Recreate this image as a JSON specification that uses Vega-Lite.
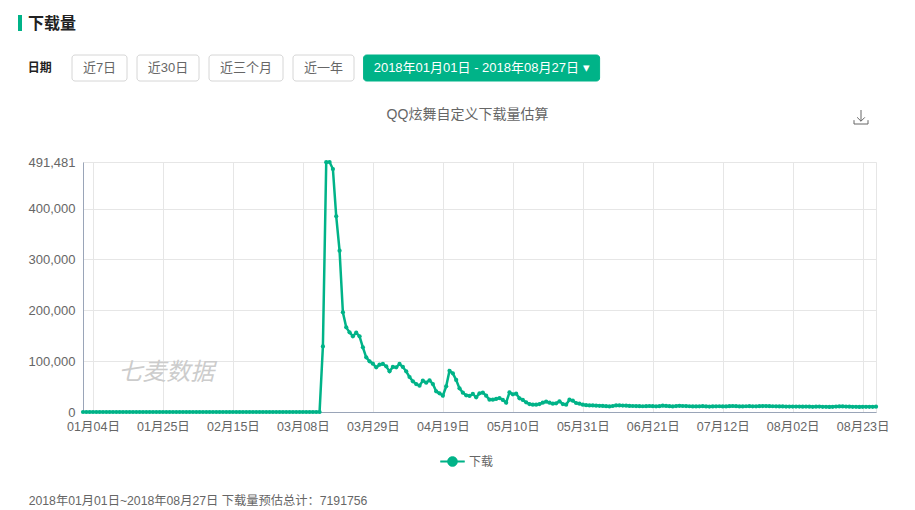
{
  "$schema": "https://vega.github.io/schema/vega-lite/v6.json",
  "width": 793,
  "height": 250,
  "autosize": "none",
  "padding": {"left": 83, "top": 162, "right": 39, "bottom": 98},
  "title": {"text": "下载量", "anchor": "start", "frame": "group", "dx": -55, "offset": -17, "fontSize": 16, "fontWeight": "bold", "color": "#222222"},
  "config": {
    "font": "Liberation Sans, Noto Sans CJK SC",
    "view": {"stroke": "#e6e6e6"}
  },
  "datasets": {
    "series": [
      {"date":"01月01日","downloads":0},{"date":"01月02日","downloads":0},{"date":"01月03日","downloads":0},{"date":"01月04日","downloads":0},{"date":"01月05日","downloads":0},{"date":"01月06日","downloads":0},{"date":"01月07日","downloads":0},{"date":"01月08日","downloads":0},{"date":"01月09日","downloads":0},{"date":"01月10日","downloads":0},
      {"date":"01月11日","downloads":0},{"date":"01月12日","downloads":0},{"date":"01月13日","downloads":0},{"date":"01月14日","downloads":0},{"date":"01月15日","downloads":0},{"date":"01月16日","downloads":0},{"date":"01月17日","downloads":0},{"date":"01月18日","downloads":0},{"date":"01月19日","downloads":0},{"date":"01月20日","downloads":0},
      {"date":"01月21日","downloads":0},{"date":"01月22日","downloads":0},{"date":"01月23日","downloads":0},{"date":"01月24日","downloads":0},{"date":"01月25日","downloads":0},{"date":"01月26日","downloads":0},{"date":"01月27日","downloads":0},{"date":"01月28日","downloads":0},{"date":"01月29日","downloads":0},{"date":"01月30日","downloads":0},{"date":"01月31日","downloads":0},
      {"date":"02月01日","downloads":0},{"date":"02月02日","downloads":0},{"date":"02月03日","downloads":0},{"date":"02月04日","downloads":0},{"date":"02月05日","downloads":0},{"date":"02月06日","downloads":0},{"date":"02月07日","downloads":0},{"date":"02月08日","downloads":0},{"date":"02月09日","downloads":0},{"date":"02月10日","downloads":0},
      {"date":"02月11日","downloads":0},{"date":"02月12日","downloads":0},{"date":"02月13日","downloads":0},{"date":"02月14日","downloads":0},{"date":"02月15日","downloads":0},{"date":"02月16日","downloads":0},{"date":"02月17日","downloads":0},{"date":"02月18日","downloads":0},{"date":"02月19日","downloads":0},{"date":"02月20日","downloads":0},
      {"date":"02月21日","downloads":0},{"date":"02月22日","downloads":0},{"date":"02月23日","downloads":0},{"date":"02月24日","downloads":0},{"date":"02月25日","downloads":0},{"date":"02月26日","downloads":0},{"date":"02月27日","downloads":0},{"date":"02月28日","downloads":0},
      {"date":"03月01日","downloads":0},{"date":"03月02日","downloads":0},{"date":"03月03日","downloads":0},{"date":"03月04日","downloads":0},{"date":"03月05日","downloads":0},{"date":"03月06日","downloads":0},{"date":"03月07日","downloads":0},{"date":"03月08日","downloads":0},{"date":"03月09日","downloads":0},{"date":"03月10日","downloads":0},
      {"date":"03月11日","downloads":0},{"date":"03月12日","downloads":0},{"date":"03月13日","downloads":0},{"date":"03月14日","downloads":129000},{"date":"03月15日","downloads":491000},{"date":"03月16日","downloads":491481},{"date":"03月17日","downloads":477700},{"date":"03月18日","downloads":384700},{"date":"03月19日","downloads":317200},{"date":"03月20日","downloads":195900},
      {"date":"03月21日","downloads":166400},{"date":"03月22日","downloads":156600},{"date":"03月23日","downloads":148800},{"date":"03月24日","downloads":156000},{"date":"03月25日","downloads":148800},{"date":"03月26日","downloads":127100},{"date":"03月27日","downloads":107500},{"date":"03月28日","downloads":99600},{"date":"03月29日","downloads":95000},{"date":"03月30日","downloads":87800},{"date":"03月31日","downloads":93000},
      {"date":"04月01日","downloads":94400},{"date":"04月02日","downloads":89800},{"date":"04月03日","downloads":79900},{"date":"04月04日","downloads":88500},{"date":"04月05日","downloads":87800},{"date":"04月06日","downloads":94400},{"date":"04月07日","downloads":88500},{"date":"04月08日","downloads":79900},{"date":"04月09日","downloads":68800},{"date":"04月10日","downloads":60300},
      {"date":"04月11日","downloads":55000},{"date":"04月12日","downloads":51800},{"date":"04月13日","downloads":61600},{"date":"04月14日","downloads":57700},{"date":"04月15日","downloads":62300},{"date":"04月16日","downloads":55000},{"date":"04月17日","downloads":40600},{"date":"04月18日","downloads":36700},{"date":"04月19日","downloads":32100},{"date":"04月20日","downloads":50500},
      {"date":"04月21日","downloads":81000},{"date":"04月22日","downloads":76000},{"date":"04月23日","downloads":63000},{"date":"04月24日","downloads":46500},{"date":"04月25日","downloads":38000},{"date":"04月26日","downloads":32800},{"date":"04月27日","downloads":31500},{"date":"04月28日","downloads":35400},{"date":"04月29日","downloads":28800},{"date":"04月30日","downloads":36700},
      {"date":"05月01日","downloads":38000},{"date":"05月02日","downloads":32100},{"date":"05月03日","downloads":24200},{"date":"05月04日","downloads":24200},{"date":"05月05日","downloads":25600},{"date":"05月06日","downloads":27500},{"date":"05月07日","downloads":23600},{"date":"05月08日","downloads":18300},{"date":"05月09日","downloads":38700},{"date":"05月10日","downloads":34700},
      {"date":"05月11日","downloads":36000},{"date":"05月12日","downloads":26900},{"date":"05月13日","downloads":23600},{"date":"05月14日","downloads":19000},{"date":"05月15日","downloads":15700},{"date":"05月16日","downloads":14400},{"date":"05月17日","downloads":14400},{"date":"05月18日","downloads":15700},{"date":"05月19日","downloads":18300},{"date":"05月20日","downloads":20300},
      {"date":"05月21日","downloads":18300},{"date":"05月22日","downloads":16400},{"date":"05月23日","downloads":17000},{"date":"05月24日","downloads":21000},{"date":"05月25日","downloads":15700},{"date":"05月26日","downloads":14400},{"date":"05月27日","downloads":24200},{"date":"05月28日","downloads":22300},{"date":"05月29日","downloads":17700},{"date":"05月30日","downloads":16400},{"date":"05月31日","downloads":14400},
      {"date":"06月01日","downloads":13500},{"date":"06月02日","downloads":13000},{"date":"06月03日","downloads":13000},{"date":"06月04日","downloads":12500},{"date":"06月05日","downloads":12200},{"date":"06月06日","downloads":12000},{"date":"06月07日","downloads":11500},{"date":"06月08日","downloads":11000},{"date":"06月09日","downloads":11800},{"date":"06月10日","downloads":12800},
      {"date":"06月11日","downloads":13000},{"date":"06月12日","downloads":12600},{"date":"06月13日","downloads":12300},{"date":"06月14日","downloads":12000},{"date":"06月15日","downloads":11800},{"date":"06月16日","downloads":11600},{"date":"06月17日","downloads":11500},{"date":"06月18日","downloads":11300},{"date":"06月19日","downloads":11500},{"date":"06月20日","downloads":11800},
      {"date":"06月21日","downloads":11400},{"date":"06月22日","downloads":11100},{"date":"06月23日","downloads":11500},{"date":"06月24日","downloads":12500},{"date":"06月25日","downloads":11900},{"date":"06月26日","downloads":11400},{"date":"06月27日","downloads":11000},{"date":"06月28日","downloads":11700},{"date":"06月29日","downloads":12200},{"date":"06月30日","downloads":11800},
      {"date":"07月01日","downloads":11600},{"date":"07月02日","downloads":11300},{"date":"07月03日","downloads":11000},{"date":"07月04日","downloads":10900},{"date":"07月05日","downloads":11100},{"date":"07月06日","downloads":11400},{"date":"07月07日","downloads":11000},{"date":"07月08日","downloads":10800},{"date":"07月09日","downloads":10900},{"date":"07月10日","downloads":11100},
      {"date":"07月11日","downloads":11300},{"date":"07月12日","downloads":11000},{"date":"07月13日","downloads":10900},{"date":"07月14日","downloads":11400},{"date":"07月15日","downloads":11800},{"date":"07月16日","downloads":11500},{"date":"07月17日","downloads":11000},{"date":"07月18日","downloads":10900},{"date":"07月19日","downloads":11300},{"date":"07月20日","downloads":11500},
      {"date":"07月21日","downloads":11100},{"date":"07月22日","downloads":11200},{"date":"07月23日","downloads":11400},{"date":"07月24日","downloads":11600},{"date":"07月25日","downloads":11700},{"date":"07月26日","downloads":11500},{"date":"07月27日","downloads":11300},{"date":"07月28日","downloads":11100},{"date":"07月29日","downloads":11000},{"date":"07月30日","downloads":10900},{"date":"07月31日","downloads":10800},
      {"date":"08月01日","downloads":10700},{"date":"08月02日","downloads":10600},{"date":"08月03日","downloads":10800},{"date":"08月04日","downloads":10700},{"date":"08月05日","downloads":10500},{"date":"08月06日","downloads":10600},{"date":"08月07日","downloads":10400},{"date":"08月08日","downloads":10200},{"date":"08月09日","downloads":10500},{"date":"08月10日","downloads":10700},
      {"date":"08月11日","downloads":10300},{"date":"08月12日","downloads":10100},{"date":"08月13日","downloads":10000},{"date":"08月14日","downloads":10300},{"date":"08月15日","downloads":10600},{"date":"08月16日","downloads":10900},{"date":"08月17日","downloads":11000},{"date":"08月18日","downloads":10700},{"date":"08月19日","downloads":10500},{"date":"08月20日","downloads":10300},
      {"date":"08月21日","downloads":10200},{"date":"08月22日","downloads":10000},{"date":"08月23日","downloads":10100},{"date":"08月24日","downloads":10300},{"date":"08月25日","downloads":10100},{"date":"08月26日","downloads":10200},{"date":"08月27日","downloads":10500}
    ],
    "filters": [
      {"order": 0, "label": "日期"},
      {"order": 1, "label": "近7日"},
      {"order": 2, "label": "近30日"},
      {"order": 3, "label": "近三个月"},
      {"order": 4, "label": "近一年"},
      {"order": 5, "label": "2018年01月01日 - 2018年08月27日 ▾"}
    ]
  },
  "layer": [
    {
      "encoding": {
        "x": {
          "field": "date",
          "type": "nominal",
          "sort": null,
          "scale": {"type": "point", "padding": 0},
          "axis": {
            "values": ["01月04日","01月25日","02月15日","03月08日","03月29日","04月19日","05月10日","05月31日","06月21日","07月12日","08月02日","08月23日"],
            "labelAngle": 0,
            "labelOverlap": false,
            "labelFontSize": 12.5,
            "labelColor": "#666666",
            "labelPadding": 8,
            "ticks": false,
            "grid": true,
            "gridColor": "#e6e6e6",
            "domainColor": "#9aa5b8",
            "title": "2018年01月01日~2018年08月27日 下载量预估总计：7191756",
            "titleFontSize": 12.25,
            "titleFontWeight": "normal",
            "titleColor": "#666666",
            "titleX": 114.5,
            "titleY": 88,
            "titleAlign": "center",
            "titleBaseline": "middle"
          }
        },
        "y": {
          "field": "downloads",
          "type": "quantitative",
          "scale": {"domain": [0, 491481], "nice": false},
          "axis": {
            "values": [0, 100000, 200000, 300000, 400000, 491481],
            "format": ",.0f",
            "labelFontSize": 13,
            "labelColor": "#666666",
            "labelPadding": 8,
            "ticks": false,
            "grid": true,
            "gridColor": "#e6e6e6",
            "domainColor": "#9aa5b8",
            "title": "QQ炫舞自定义下载量估算",
            "titleFontSize": 14,
            "titleFontWeight": "normal",
            "titleColor": "#666666",
            "titleAngle": 0,
            "titleX": 384,
            "titleY": -48,
            "titleAlign": "center",
            "titleBaseline": "middle"
          }
        }
      },
      "layer": [
        {
          "data": {"name": "series"},
          "mark": {"type": "line", "strokeWidth": 2.5, "point": {"filled": true, "size": 18}},
          "encoding": {
            "color": {
              "datum": "下载",
              "scale": {"domain": ["下载"], "range": ["#00b388"]},
              "legend": {
                "title": null,
                "orient": "none",
                "legendX": 357,
                "legendY": 287,
                "symbolType": "M-1,-0.06H1V0.06H-1Z M0.42,0A0.42,0.42 0 1,1 -0.42,0A0.42,0.42 0 1,1 0.42,0Z",
                "symbolSize": 576,
                "symbolFillColor": "#00b388",
                "symbolStrokeColor": "#00b388",
                "symbolStrokeWidth": 0.5,
                "labelFontSize": 12,
                "labelColor": "#666666"
              }
            }
          }
        },
        {
          "data": {"values": [{"date": "01月26日", "downloads": 76700, "text": "七麦数据"}]},
          "mark": {"type": "text", "fontSize": 24, "fontStyle": "italic", "color": "#cccccc"},
          "encoding": {"text": {"field": "text"}}
        }
      ]
    },
    {
      "data": {"name": "filters"},
      "encoding": {
        "x": {
          "field": "order",
          "type": "quantitative",
          "scale": {"domain": [0, 1, 2, 3, 4, 5], "range": [-46.5, 16.5, 85, 163, 240.5, 407.5]},
          "axis": null
        },
        "y": {"datum": 0.5, "scale": {"domain": [0, 1], "range": [-81, -107]}, "axis": null}
      },
      "layer": [
        {
          "transform": [{"filter": "datum.order > 0"}],
          "mark": {"type": "bar", "orient": "vertical", "cornerRadius": 3, "strokeWidth": 1},
          "encoding": {
            "y": {"datum": 1, "scale": {"domain": [0, 1], "range": [-81, -107]}, "axis": null},
            "size": {
              "field": "order",
              "type": "ordinal",
              "scale": {"type": "ordinal", "domain": [1, 2, 3, 4, 5], "range": [55, 62, 74, 61, 236]},
              "legend": null
            },
            "fill": {
              "field": "order",
              "type": "ordinal",
              "scale": {"domain": [1, 2, 3, 4, 5], "range": ["#ffffff", "#ffffff", "#ffffff", "#ffffff", "#00b388"]},
              "legend": null
            },
            "stroke": {
              "field": "order",
              "type": "ordinal",
              "scale": {"domain": [1, 2, 3, 4, 5], "range": ["#d6d6d6", "#d6d6d6", "#d6d6d6", "#d6d6d6", "#00b388"]},
              "legend": null
            }
          }
        },
        {
          "transform": [{"filter": "datum.order > 0"}],
          "mark": {"type": "text", "fontSize": 13},
          "encoding": {
            "text": {"field": "label"},
            "color": {
              "field": "order",
              "type": "ordinal",
              "scale": {"domain": [1, 2, 3, 4, 5], "range": ["#666666", "#666666", "#666666", "#666666", "#ffffff"]},
              "legend": null
            }
          }
        },
        {
          "transform": [{"filter": "datum.order == 0"}],
          "mark": {"type": "text", "fontSize": 12, "fontWeight": "bold", "color": "#222222"},
          "encoding": {"text": {"field": "label"}}
        }
      ],
      "resolve": {"scale": {"color": "independent"}}
    },
    {
      "data": {"values": [{"item": "标题标记"}]},
      "mark": {"type": "rect", "color": "#00b388"},
      "encoding": {
        "x": {"datum": 0, "scale": {"domain": [0, 1], "range": [-65, -61]}, "axis": null},
        "x2": {"datum": 1},
        "y": {"datum": 0, "scale": {"domain": [0, 1], "range": [-131, -147]}, "axis": null},
        "y2": {"datum": 1}
      }
    },
    {
      "data": {"values": [{"item": "下载图标"}]},
      "mark": {"type": "point", "shape": "M0,-1V0.6M-0.55,0.05L0,0.6L0.55,0.05M-1,0.45V1H1V0.45", "size": 196, "color": "#666666", "opacity": 1, "strokeWidth": 1, "filled": false},
      "encoding": {
        "x": {"datum": 0, "scale": {"domain": [0, 1], "range": [778, 788]}, "axis": null},
        "y": {"datum": 0, "scale": {"domain": [0, 1], "range": [-45, -55]}, "axis": null}
      }
    }
  ],
  "resolve": {"scale": {"x": "independent", "y": "independent", "color": "independent", "size": "independent"}}
}
